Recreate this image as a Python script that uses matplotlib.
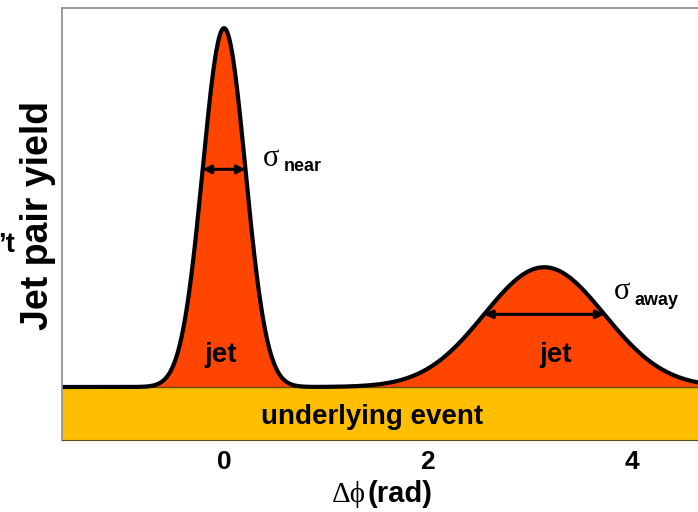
import numpy as np
import matplotlib.pyplot as plt

plt.rcParams['font.family'] = ['Liberation Sans', 'DejaVu Sans']

# peak parameters (y units: underlying event band height = 1)
peak_labels = ['near', 'away']
peak_centers = [0.0, np.pi]
peak_heights = [6.77, 2.26]
peak_widths = [0.21, 0.59]
band_level = 1.0
x_ticks = [0, 2, 4]
x_range = (-1.59, 4.65)
y_range = (0, 8.15)

jet_color = '#FF4500'
band_color = '#FFBF00'

phi = np.linspace(x_range[0], x_range[1], 1200)
curve = np.full_like(phi, band_level)
for c, h, w in zip(peak_centers, peak_heights, peak_widths):
    curve += h * np.exp(-0.5 * ((phi - c) / w) ** 2)

fig = plt.figure(figsize=(6.98, 5.12), dpi=100)
ax = fig.add_axes([62 / 698, 72 / 512, 1 - 62 / 698, 432 / 512])

# underlying event band and jet peaks
ax.fill_between(phi, 0, band_level, color=band_color, lw=0)
ax.axhline(band_level, color='#6b4a00', lw=1)
ax.fill_between(phi, band_level, curve, color=jet_color, lw=0)
ax.plot(phi, curve, color='black', lw=3, solid_capstyle='butt')

# width arrows at one sigma
for c, h, w in zip(peak_centers, peak_heights, peak_widths):
    yy = band_level + h * np.exp(-0.5)
    ax.annotate('', xy=(c - w, yy), xytext=(c + w, yy),
                arrowprops=dict(arrowstyle='<|-|>', color='black', lw=2.2,
                                mutation_scale=12, shrinkA=0, shrinkB=0))

# labels
ax.text(-0.03, 1.6, 'jet', ha='center', va='center', fontsize=20, fontweight='bold')
ax.text(3.25, 1.6, 'jet', ha='center', va='center', fontsize=20, fontweight='bold')
ax.text(1.45, 0.43, 'underlying event', ha='center', va='center', fontsize=20, fontweight='bold')

ax.text(0.38, 5.17, 'σ', ha='left', va='baseline', fontsize=22, family='Liberation Serif')
ax.text(0.585, 5.07, 'near', ha='left', va='baseline', fontsize=13, fontweight='bold')
ax.text(3.82, 2.66, 'σ', ha='left', va='baseline', fontsize=22, family='Liberation Serif')
ax.text(4.03, 2.55, 'away', ha='left', va='baseline', fontsize=13, fontweight='bold')

ax.set_xlim(*x_range)
ax.set_ylim(*y_range)
ax.set_xticks(x_ticks)
ax.set_xticklabels([str(t) for t in x_ticks], fontsize=19, fontweight='bold')
ax.tick_params(axis='x', length=0, pad=7)
ax.set_yticks([])

for side in ['left', 'top']:
    ax.spines[side].set_color('#8a8a8a')
    ax.spines[side].set_linewidth(1.2)
ax.spines['bottom'].set_color('#5a4a20')
ax.spines['right'].set_visible(False)

fig.text(38 / 698, 1 - 215 / 512, 'Jet pair yield', rotation=90, ha='center', va='center',
         fontsize=27, fontweight='bold')
fig.text(366 / 698, 1 - 494 / 512, 'Δϕ', ha='right', va='center', fontsize=21,
         family=['Liberation Serif', 'DejaVu Serif'])
fig.text(368 / 698, 1 - 494 / 512, '(rad)', ha='left', va='center', fontsize=21,
         fontweight='bold')
fig.text(-0.003, 1 - 245 / 512, '’t', ha='left', va='center', fontsize=20, fontweight='bold')

fig.savefig('out.png', dpi=100)
